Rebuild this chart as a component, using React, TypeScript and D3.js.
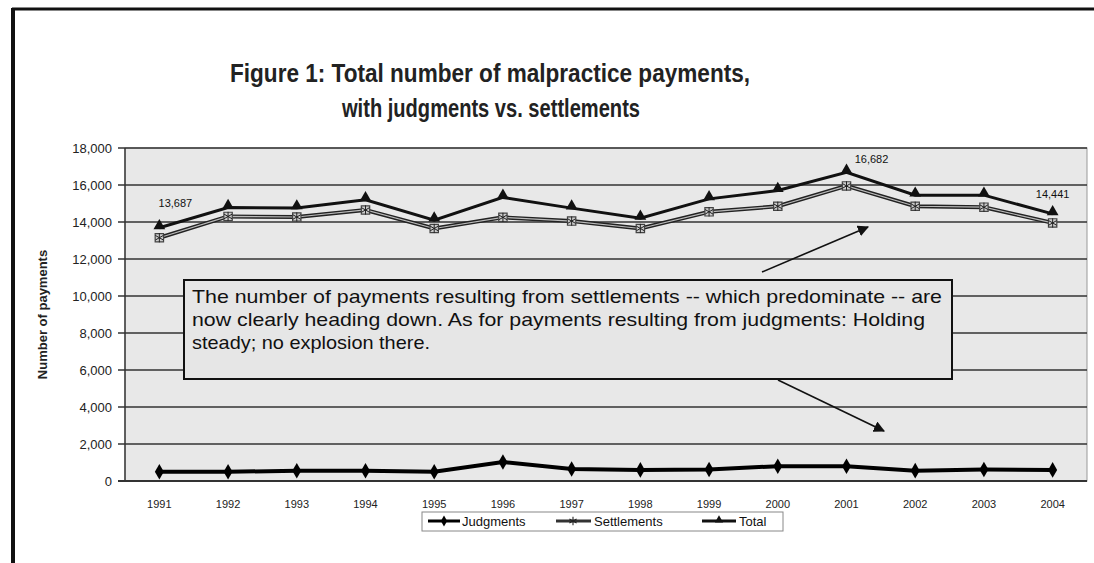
import React from 'react';
import * as d3 from 'd3';

const years = ['1991', '1992', '1993', '1994', '1995', '1996', '1997', '1998', '1999', '2000', '2001', '2002', '2003', '2004'];
const judgments = [500, 500, 550, 550, 500, 1030, 650, 600, 620, 800, 800, 560, 620, 600];
const settlements = [13150, 14300, 14270, 14650, 13650, 14250, 14050, 13650, 14550, 14850, 15950, 14850, 14800, 13950];
const totals = [13687, 14780, 14760, 15200, 14100, 15330, 14750, 14200, 15250, 15700, 16682, 15450, 15450, 14441];
const yTicks = [0, 2000, 4000, 6000, 8000, 10000, 12000, 14000, 16000, 18000];
const labelled = [
  { i: 0, v: 13687, dx: 16, dy: -21 },
  { i: 10, v: 16682, dx: 25, dy: -9 },
  { i: 13, v: 14441, dx: 0, dy: -16 },
];

const W = 1094;
const H = 563;
const plot = { left: 125, right: 1087, top: 148, bottom: 481 };
const font = 'Arial, "Liberation Sans", Helvetica, sans-serif';

const App: React.FC = () => {
  const x = d3.scaleBand<string>().domain(years).range([plot.left, plot.right]);
  const cx = (i: number) => (x(years[i]) as number) + x.bandwidth() / 2;
  const y = d3.scaleLinear().domain([0, 18000]).range([plot.bottom, plot.top]);
  const fmt = d3.format(',');

  const line = d3.line<number>().x((_, i) => cx(i)).y(d => y(d));

  const diamond = d3.symbol().type(d3.symbolDiamond).size(70)() as string;
  const triangle = d3.symbol().type(d3.symbolTriangle).size(60)() as string;
  const square = d3.symbol().type(d3.symbolSquare).size(70)() as string;
  const star = d3.symbol().type(d3.symbolAsterisk).size(60)() as string;

  const box = { x: 184, y: 280, w: 768, h: 99 };
  const note = [
    { t: 'The number of payments resulting from settlements -- which predominate -- are', len: 750 },
    { t: 'now clearly heading down. As for payments resulting from judgments: Holding', len: 733 },
    { t: 'steady; no explosion there.', len: 238 },
  ];

  return (
    <svg width={W} height={H} style={{ position: 'absolute', left: 0, top: 0 }} fontFamily={font}>
      <defs>
        <marker id="ah" viewBox="0 0 10 10" refX="9" refY="5" markerWidth="7" markerHeight="7" orient="auto">
          <path d="M0,0 L10,5 L0,10 z" fill="#111" />
        </marker>
      </defs>
      <rect width={W} height={H} fill="#fff" />
      {/* scanned page frame */}
      <line x1={12} y1={9} x2={W} y2={9} stroke="#111" strokeWidth={3} />
      <line x1={13} y1={8} x2={13} y2={H} stroke="#111" strokeWidth={4} />

      <text x={490} y={82} textAnchor="middle" fontSize={26} fontWeight="bold" fill="#222" textLength={520} lengthAdjust="spacingAndGlyphs">
        Figure 1: Total number of malpractice payments,
      </text>
      <text x={491} y={117} textAnchor="middle" fontSize={26} fontWeight="bold" fill="#222" textLength={298} lengthAdjust="spacingAndGlyphs">
        with judgments vs. settlements
      </text>

      {/* plot area */}
      <rect x={plot.left} y={plot.top} width={plot.right - plot.left} height={plot.bottom - plot.top} fill="#e8e8e8" stroke="#999" strokeWidth={1} />
      {yTicks.map(t => (
        <g key={t}>
          <line x1={plot.left - 7} x2={plot.right} y1={y(t)} y2={y(t)} stroke="#333" strokeWidth={t === 0 ? 2 : 1.4} />
          <text x={112} y={y(t) + 5} textAnchor="end" fontSize={13} fill="#222">{fmt(t)}</text>
        </g>
      ))}
      <line x1={plot.left} x2={plot.left} y1={plot.top} y2={plot.bottom} stroke="#333" strokeWidth={1.4} />
      {years.map((yr, i) => (
        <text key={yr} x={cx(i)} y={508} textAnchor="middle" fontSize={11} fill="#222">{yr}</text>
      ))}
      <text transform={`translate(47,${(plot.top + plot.bottom) / 2}) rotate(-90)`} textAnchor="middle" fontSize={13} fontWeight="bold" fill="#222">
        Number of payments
      </text>

      {/* series */}
      <path d={line(settlements) as string} fill="none" stroke="#222" strokeWidth={4} />
      <path d={line(settlements) as string} fill="none" stroke="#bbb" strokeWidth={1.2} />
      <path d={line(totals) as string} fill="none" stroke="#111" strokeWidth={3} />
      <path d={line(judgments) as string} fill="none" stroke="#000" strokeWidth={4} />
      {settlements.map((v, i) => (
        <g key={'s' + i} transform={`translate(${cx(i)},${y(v)})`}>
          <path d={square} fill="#ccc" stroke="#444" strokeWidth={1.2} />
          <path d={star} fill="none" stroke="#222" strokeWidth={1} />
        </g>
      ))}
      {totals.map((v, i) => (
        <path key={'t' + i} d={triangle} transform={`translate(${cx(i)},${y(v) - 2})`} fill="#111" />
      ))}
      {judgments.map((v, i) => (
        <path key={'j' + i} d={diamond} transform={`translate(${cx(i)},${y(v)})`} fill="#000" />
      ))}
      {labelled.map(d => (
        <text key={d.i} x={cx(d.i) + d.dx} y={y(d.v) + d.dy} textAnchor="middle" fontSize={11} fill="#111">
          {fmt(d.v)}
        </text>
      ))}

      {/* annotation */}
      <line x1={762} y1={272} x2={868} y2={227} stroke="#111" strokeWidth={1.6} markerEnd="url(#ah)" />
      <line x1={778} y1={380} x2={884} y2={431} stroke="#111" strokeWidth={1.6} markerEnd="url(#ah)" />
      <rect x={box.x} y={box.y} width={box.w} height={box.h} fill="#e6e6e6" stroke="#111" strokeWidth={2} />
      {note.map((n, i) => (
        <text key={i} x={box.x + 8} y={box.y + 23 + i * 23} fontSize={19} fill="#111" textLength={n.len} lengthAdjust="spacingAndGlyphs">
          {n.t}
        </text>
      ))}

      {/* legend */}
      <rect x={422} y={512} width={361} height={19} fill="#fff" stroke="#888" strokeWidth={1} />
      <g fontSize={13} fill="#111">
        <line x1={428} x2={460} y1={521} y2={521} stroke="#000" strokeWidth={3} />
        <path d={diamond} transform="translate(444,521) scale(0.7)" fill="#000" />
        <text x={462} y={526}>Judgments</text>
        <line x1={556} x2={591} y1={521} y2={521} stroke="#333" strokeWidth={3} />
        <path d={star} transform="translate(573,521) scale(0.9)" fill="none" stroke="#222" strokeWidth={1.2} />
        <text x={594} y={526}>Settlements</text>
        <line x1={702} x2={736} y1={521} y2={521} stroke="#111" strokeWidth={3} />
        <path d={triangle} transform="translate(719,520) scale(0.7)" fill="#111" />
        <text x={739} y={526}>Total</text>
      </g>
    </svg>
  );
};

export default App;
